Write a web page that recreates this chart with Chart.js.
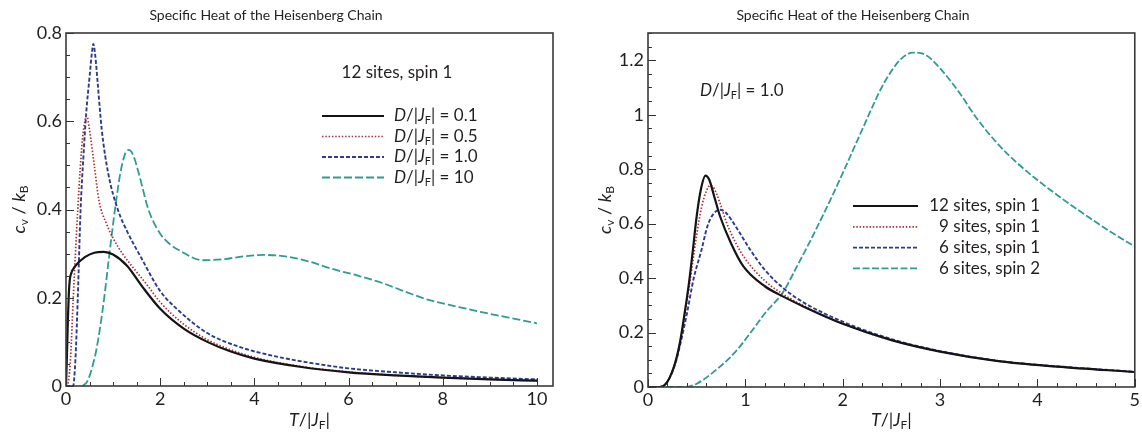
<!DOCTYPE html>
<html><head><meta charset="utf-8">
<script src="https://cdn.jsdelivr.net/npm/chart.js@4/dist/chart.umd.min.js"></script>
<style>
html,body{margin:0;padding:0;background:#fff;width:1142px;height:439px;overflow:hidden}
canvas{position:absolute;top:0}
</style></head>
<body>
<canvas id="left" width="571" height="439" style="left:0"></canvas>
<canvas id="right" width="571" height="439" style="left:571px"></canvas>
<script>
const FONT = 'Lato, "Open Sans", sans-serif';
const TEXT = '#231f20';
const chartTitle = 'Specific Heat of the Heisenberg Chain';

// ---------- Left panel: 12 sites, spin 1 ----------
const leftXTicks = [0, 2, 4, 6, 8, 10];
const leftYTicks = [0, 0.2, 0.4, 0.6, 0.8];

const leftT_D01 = [0, 0.02, 0.04, 0.06, 0.08, 0.1, 0.2, 0.4, 0.6, 0.8, 1.0, 1.3, 1.6, 2.0, 2.5, 3.0, 3.5, 4.0, 5.0, 6.0, 7.0, 8.0, 9.0, 10.0];
const leftC_D01 = [0, 0.07, 0.15, 0.21, 0.24, 0.252, 0.272, 0.292, 0.302, 0.304, 0.298, 0.272, 0.228, 0.175, 0.13, 0.1, 0.078, 0.062, 0.043, 0.031, 0.024, 0.019, 0.015, 0.012];

const leftT_D05 = [0, 0.05, 0.1, 0.15, 0.2, 0.25, 0.3, 0.35, 0.4, 0.44, 0.5, 0.6, 0.7, 0.85, 1.0, 1.2, 1.45, 1.7, 2.0, 2.5, 3.0, 3.5, 4.0, 5.0, 6.0, 7.0, 8.0, 9.0, 10.0];
const leftC_D05 = [0, 0.01, 0.07, 0.19, 0.3, 0.4, 0.49, 0.56, 0.60, 0.612, 0.58, 0.50, 0.42, 0.37, 0.335, 0.30, 0.265, 0.232, 0.19, 0.14, 0.105, 0.082, 0.065, 0.044, 0.032, 0.024, 0.019, 0.015, 0.012];

const leftT_D10 = [0, 0.15, 0.2, 0.25, 0.31, 0.37, 0.43, 0.5, 0.55, 0.58, 0.62, 0.67, 0.76, 0.9, 1.1, 1.3, 1.6, 2.0, 2.3, 3.0, 3.7, 4.5, 5.1, 6.0, 7.0, 8.0, 9.0, 10.0];
const leftC_D10 = [0, 0, 0.06, 0.2, 0.40, 0.52, 0.62, 0.70, 0.755, 0.775, 0.75, 0.69, 0.58, 0.48, 0.40, 0.35, 0.29, 0.215, 0.18, 0.12, 0.088, 0.066, 0.054, 0.04, 0.031, 0.024, 0.019, 0.015];

const leftT_D100 = [0.35, 0.45, 0.55, 0.65, 0.8, 0.9, 1.04, 1.15, 1.25, 1.33, 1.42, 1.55, 1.75, 2.0, 2.2, 2.43, 2.9, 3.3, 3.8, 4.2, 4.7, 5.2, 5.6, 6.2, 6.7, 7.2, 7.7, 8.3, 8.8, 9.4, 10.0];
const leftC_D100 = [0, 0.01, 0.04, 0.085, 0.19, 0.28, 0.40, 0.48, 0.525, 0.535, 0.525, 0.48, 0.40, 0.345, 0.322, 0.306, 0.285, 0.287, 0.294, 0.297, 0.293, 0.281, 0.267, 0.25, 0.234, 0.214, 0.195, 0.18, 0.168, 0.155, 0.142];

// ---------- Right panel: D/|J_F| = 1.0 ----------
const rightXTicks = [0, 1, 2, 3, 4, 5];
const rightYTicks = [0, 0.2, 0.4, 0.6, 0.8, 1, 1.2];

const rightT_12s1 = [0, 0.12, 0.2, 0.28, 0.33, 0.38, 0.42, 0.46, 0.50, 0.54, 0.59, 0.63, 0.68, 0.74, 0.85, 0.98, 1.2, 1.4, 1.6, 2.0, 2.5, 3.0, 3.6, 4.2, 5.0];
const rightC_12s1 = [0, 0, 0.02, 0.09, 0.167, 0.28, 0.38, 0.50, 0.627, 0.72, 0.776, 0.76, 0.70, 0.627, 0.53, 0.443, 0.37, 0.33, 0.295, 0.232, 0.172, 0.13, 0.095, 0.075, 0.055];

const rightT_9s1 = [0, 0.12, 0.2, 0.28, 0.33, 0.38, 0.42, 0.46, 0.50, 0.55, 0.6, 0.64, 0.68, 0.74, 0.8, 0.9, 1.0, 1.2, 1.4, 1.6, 2.0, 2.5, 3.0, 3.6, 4.2, 5.0];
const rightC_9s1 = [0, 0, 0.02, 0.09, 0.165, 0.27, 0.36, 0.46, 0.56, 0.66, 0.72, 0.74, 0.728, 0.675, 0.61, 0.53, 0.47, 0.39, 0.338, 0.298, 0.233, 0.172, 0.13, 0.095, 0.075, 0.055];

const rightT_6s1 = [0, 0.12, 0.2, 0.28, 0.33, 0.4, 0.47, 0.55, 0.61, 0.67, 0.74, 0.8, 0.9, 1.05, 1.2, 1.39, 1.6, 2.0, 2.5, 3.0, 3.6, 4.2, 5.0];
const rightC_6s1 = [0, 0, 0.02, 0.085, 0.155, 0.27, 0.40, 0.504, 0.59, 0.635, 0.651, 0.64, 0.59, 0.504, 0.43, 0.363, 0.31, 0.24, 0.176, 0.132, 0.096, 0.076, 0.056];

const rightT_6s2 = [0, 0.38, 0.5, 0.74, 0.9, 1.05, 1.2, 1.39, 1.53, 1.7, 1.89, 2.0, 2.1, 2.2, 2.3, 2.4, 2.5, 2.6, 2.72, 2.85, 3.0, 3.2, 3.37, 3.6, 3.8, 4.0, 4.26, 4.5, 4.75, 5.0];
const rightC_6s2 = [0, 0, 0.012, 0.075, 0.13, 0.198, 0.27, 0.35, 0.443, 0.56, 0.70, 0.785, 0.865, 0.945, 1.025, 1.1, 1.16, 1.205, 1.228, 1.22, 1.17, 1.08, 0.99, 0.89, 0.82, 0.76, 0.69, 0.63, 0.57, 0.516];

// ---------- labels (rich text parts: i = italic, s = subscript) ----------
const DJ = (v) => [['D', 'i'], ['/|', ''], ['J', 'i'], ['F', 's'], ['| = ' + v, '']];
const leftLabels = [DJ('0.1'), DJ('0.5'), DJ('1.0'), DJ('10')];
const rightLabels = [[['12 sites, spin 1', '']], [['9 sites, spin 1', '']], [['6 sites, spin 1', '']], [['6 sites, spin 2', '']]];
const xTitleParts = [['T', 'i'], ['/|', ''], ['J', 'i'], ['F', 's'], ['|', '']];
const yTitleParts = [['c', 'i'], ['v', 's'], [' / ', ''], ['k', 'i'], ['B', 's']];

const COLORS = { black: '#141414', red: '#a8323a', blue: '#2c3c8c', teal: '#2f9c90' };
const FS = 17;      // legend / notes
const FS_TICK = 18; // tick labels
const FS_AXIS = 18; // axis titles
const FS_TITLE = 14;

function pts(t, c) { return t.map((v, i) => ({ x: v, y: c[i] })); }

function ds(label, t, c, color, dash, width) {
  return {
    label, data: pts(t, c), borderColor: color, backgroundColor: color,
    borderDash: dash, borderWidth: width, pointRadius: 0,
    cubicInterpolationMode: 'monotone', fill: false, borderCapStyle: 'butt'
  };
}

function drawRich(ctx, parts, x, y, size, align) {
  const fontFor = (st) => (st === 'i' ? 'italic ' : '') + (st === 's' ? Math.round(size * 0.66) : size) + 'px ' + FONT;
  let w = 0;
  for (const [t, st] of parts) { ctx.font = fontFor(st); w += ctx.measureText(t).width; }
  let cx = align === 'center' ? x - w / 2 : (align === 'right' ? x - w : x);
  ctx.textAlign = 'left';
  ctx.textBaseline = 'middle';
  for (const [t, st] of parts) {
    ctx.font = fontFor(st);
    ctx.fillText(t, cx, st === 's' ? y + size * 0.28 : y);
    cx += ctx.measureText(t).width;
  }
}

const decor = {
  id: 'decor',
  afterDatasetsDraw(chart, args, o) {
    const { ctx, chartArea: a } = chart;
    const xs = chart.scales.x, ys = chart.scales.y;
    ctx.save();
    ctx.strokeStyle = '#333';
    ctx.lineWidth = 1;
    ctx.beginPath();
    for (let v = xs.min; v <= xs.max + 1e-9; v += o.xMinor) {
      const px = Math.round(xs.getPixelForValue(v)) + 0.5;
      const major = o.xMajor.some(m => Math.abs(m - v) < 1e-6);
      ctx.moveTo(px, a.bottom); ctx.lineTo(px, a.bottom - (major ? 8 : 4));
    }
    for (let v = ys.min; v <= ys.max + 1e-9; v += o.yMinor) {
      const py = Math.round(ys.getPixelForValue(v)) + 0.5;
      const major = o.yMajor.some(m => Math.abs(m - v) < 1e-6);
      ctx.moveTo(a.left, py); ctx.lineTo(a.left + (major ? 8 : 4), py);
    }
    ctx.stroke();
    ctx.lineWidth = 1.6;
    ctx.strokeStyle = '#3a3a3a';
    ctx.strokeRect(a.left, a.top, a.right - a.left, a.bottom - a.top);
    ctx.fillStyle = TEXT;
    drawRich(ctx, [[chartTitle, '']], o.titleX, 15, FS_TITLE, 'center');
    drawRich(ctx, xTitleParts, (a.left + a.right) / 2, o.xTitleY, FS_AXIS, 'center');
    ctx.save();
    ctx.translate(o.yTitleX, (a.top + a.bottom) / 2);
    ctx.rotate(-Math.PI / 2);
    drawRich(ctx, yTitleParts, 0, 0, FS_AXIS, 'center');
    ctx.restore();
    for (const n of o.notes) drawRich(ctx, n.parts, n.x, n.y, FS, n.align);
    const L = o.legend;
    chart.data.datasets.forEach((d, i) => {
      const y = L.y0 + i * L.dy;
      ctx.save();
      ctx.strokeStyle = d.borderColor;
      ctx.lineWidth = d.borderWidth;
      ctx.setLineDash(d.borderDash || []);
      ctx.beginPath();
      ctx.moveTo(L.x0, y); ctx.lineTo(L.x1, y);
      ctx.stroke();
      ctx.restore();
      drawRich(ctx, L.labels[i], L.textX, y, FS, L.align);
    });
    ctx.restore();
  }
};

function makeChart(id, datasets, cfg) {
  return new Chart(document.getElementById(id), {
    type: 'line',
    data: { datasets },
    plugins: [decor],
    options: {
      responsive: false, animation: false, devicePixelRatio: 1,
      layout: { padding: { left: 0, right: cfg.padRight, top: 33, bottom: 0 } },
      plugins: {
        legend: { display: false },
        tooltip: { enabled: false },
        title: { display: false, text: chartTitle },
        decor: cfg.decor
      },
      scales: {
        x: {
          type: 'linear', min: 0, max: cfg.xMax,
          grid: { display: false, drawTicks: false }, border: { display: false },
          afterBuildTicks: (s) => { s.ticks = cfg.xTicks.map(v => ({ value: v })); },
          afterFit: (s) => { s.height = cfg.xHeight; },
          ticks: { color: TEXT, font: { family: FONT, size: FS_TICK }, padding: 2, maxRotation: 0, autoSkip: false,
                   callback: (v) => String(v) }
        },
        y: {
          type: 'linear', min: 0, max: cfg.yMax,
          grid: { display: false, drawTicks: false }, border: { display: false },
          afterBuildTicks: (s) => { s.ticks = cfg.yTicks.map(v => ({ value: v })); },
          afterFit: (s) => { s.width = cfg.yWidth; },
          ticks: { color: TEXT, font: { family: FONT, size: FS_TICK }, padding: 4, autoSkip: false,
                   callback: (v) => String(v) }
        }
      }
    }
  });
}

makeChart('left', [
  ds('D/|J_F| = 0.1', leftT_D01, leftC_D01, COLORS.black, [], 2.2),
  ds('D/|J_F| = 0.5', leftT_D05, leftC_D05, COLORS.red, [1.5, 1.8], 1.7),
  ds('D/|J_F| = 1.0', leftT_D10, leftC_D10, COLORS.blue, [4, 2], 1.9),
  ds('D/|J_F| = 10', leftT_D100, leftC_D100, COLORS.teal, [8, 3], 1.8)
], {
  xMax: 10.34, yMax: 0.8, xTicks: leftXTicks, yTicks: leftYTicks,
  xHeight: 53, yWidth: 66, padRight: 18,
  decor: {
    titleX: 266,
    xMinor: 0.5, yMinor: 0.05, xMajor: leftXTicks, yMajor: leftYTicks,
    xTitleY: 420, yTitleX: 19,
    notes: [{ parts: [['12 sites, spin 1', '']], x: 397, y: 73, align: 'center' }],
    legend: { x0: 322, x1: 384, textX: 394, align: 'left', y0: 116, dy: 20.5, labels: leftLabels }
  }
});

makeChart('right', [
  ds('12 sites, spin 1', rightT_12s1, rightC_12s1, COLORS.black, [], 2.2),
  ds('9 sites, spin 1', rightT_9s1, rightC_9s1, COLORS.red, [1.5, 1.8], 1.7),
  ds('6 sites, spin 1', rightT_6s1, rightC_6s1, COLORS.blue, [4, 2], 1.9),
  ds('6 sites, spin 2', rightT_6s2, rightC_6s2, COLORS.teal, [7, 2.5], 1.8)
], {
  xMax: 5, yMax: 1.3, xTicks: rightXTicks, yTicks: rightYTicks,
  xHeight: 52, yWidth: 77, padRight: 7,
  decor: {
    titleX: 282,
    xMinor: 0.2, yMinor: 0.05, xMajor: rightXTicks, yMajor: rightYTicks,
    xTitleY: 420, yTitleX: 34,
    notes: [{ parts: DJ('1.0'), x: 129, y: 91, align: 'left' }],
    legend: { x0: 282, x1: 347, textX: 469, align: 'right', y0: 206, dy: 20.8, labels: rightLabels }
  }
});
</script>
</body></html>
